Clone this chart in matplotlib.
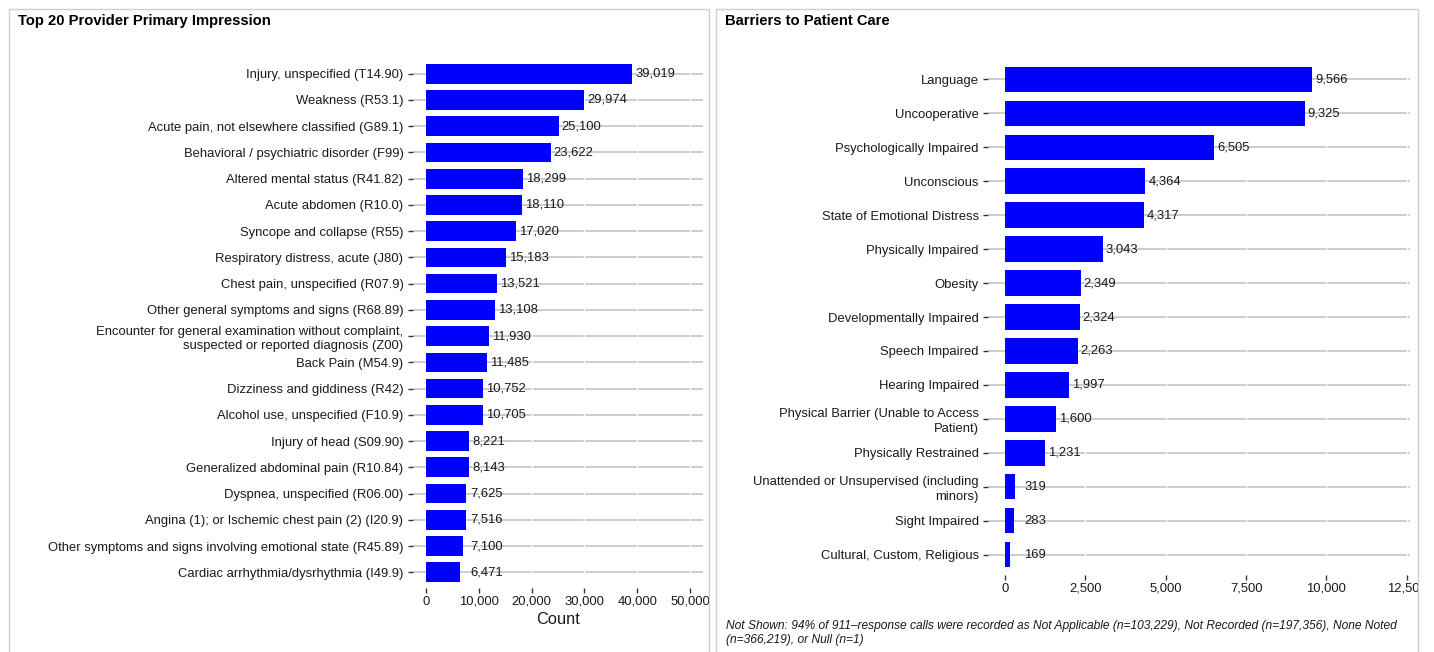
import numpy as np
import matplotlib
matplotlib.use("Agg")
import matplotlib.pyplot as plt
from matplotlib.patches import Rectangle
from matplotlib.transforms import Bbox, TransformedBbox
from matplotlib.ticker import FuncFormatter

plt.rcParams['font.family'] = ['Liberation Sans', 'DejaVu Sans']

# ---------------- data ----------------
left_title = "Top 20 Provider Primary Impression"
left_labels = [
    "Injury, unspecified (T14.90)",
    "Weakness (R53.1)",
    "Acute pain, not elsewhere classified (G89.1)",
    "Behavioral / psychiatric disorder (F99)",
    "Altered mental status (R41.82)",
    "Acute abdomen (R10.0)",
    "Syncope and collapse (R55)",
    "Respiratory distress, acute (J80)",
    "Chest pain, unspecified (R07.9)",
    "Other general symptoms and signs (R68.89)",
    "Encounter for general examination without complaint,\nsuspected or reported diagnosis (Z00)",
    "Back Pain (M54.9)",
    "Dizziness and giddiness (R42)",
    "Alcohol use, unspecified (F10.9)",
    "Injury of head (S09.90)",
    "Generalized abdominal pain (R10.84)",
    "Dyspnea, unspecified (R06.00)",
    "Angina (1); or Ischemic chest pain (2) (I20.9)",
    "Other symptoms and signs involving emotional state (R45.89)",
    "Cardiac arrhythmia/dysrhythmia (I49.9)",
]
left_values = [39019, 29974, 25100, 23622, 18299, 18110, 17020, 15183, 13521,
               13108, 11930, 11485, 10752, 10705, 8221, 8143, 7625, 7516, 7100, 6471]
left_ticks = [0, 10000, 20000, 30000, 40000, 50000]
left_xlabel = "Count"

right_title = "Barriers to Patient Care"
right_labels = [
    "Language",
    "Uncooperative",
    "Psychologically Impaired",
    "Unconscious",
    "State of Emotional Distress",
    "Physically Impaired",
    "Obesity",
    "Developmentally Impaired",
    "Speech Impaired",
    "Hearing Impaired",
    "Physical Barrier (Unable to Access\nPatient)",
    "Physically Restrained",
    "Unattended or Unsupervised (including\nminors)",
    "Sight Impaired",
    "Cultural, Custom, Religious",
]
right_values = [9566, 9325, 6505, 4364, 4317, 3043, 2349, 2324, 2263, 1997,
                1600, 1231, 319, 283, 169]
right_ticks = [0, 2500, 5000, 7500, 10000, 12500]
footnote = ("Not Shown: 94% of 911\u2013response calls were recorded as Not Applicable "
            "(n=103,229), Not Recorded (n=197,356), None Noted\n(n=366,219), or Null (n=1)")

# ---------------- figure ----------------
W, H = 1434, 652
fig = plt.figure(figsize=(W / 100, H / 100), dpi=100)

def fx(px):
    return px / W

def fy(py):
    return 1 - py / H

def axes_px(l, r, t, b):
    return fig.add_axes([fx(l), fy(b), fx(r) - fx(l), fy(t) - fy(b)])

BLUE = "#0000ff"
GRID = "#c4c4c4"
TXT = "#1a1a1a"
TICKC = "#333333"
FS = 9.4

# panel borders
fig.add_artist(Rectangle((fx(9), fy(H + 5)), fx(709) - fx(9), fy(9) - fy(H + 5),
                         transform=fig.transFigure, fill=False, ec="#cfcfcf", lw=1.0))
fig.add_artist(Rectangle((fx(716), fy(H + 5)), fx(1418) - fx(716), fy(9) - fy(H + 5),
                         transform=fig.transFigure, fill=False, ec="#cfcfcf", lw=1.0))

fig.text(fx(18), fy(21), left_title, fontsize=10.6, fontweight="bold",
         ha="left", va="center", color="black")
fig.text(fx(725), fy(21), right_title, fontsize=10.6, fontweight="bold",
         ha="left", va="center", color="black")

comma = FuncFormatter(lambda v, p: f"{int(round(v)):,}")


def draw_panel(ax, labels, values, ticks, xlim, floor_val):
    n = len(labels)
    y = np.arange(n)
    ax.set_xlim(*xlim)
    ax.set_ylim(n - 1 + 0.6, -0.6)
    for s in ax.spines.values():
        s.set_visible(False)
    # horizontal grid lines at each category
    for yi in y:
        ax.axhline(yi, color=GRID, lw=1.2, zorder=1)
    # white vertical breaks at major ticks
    for t in ticks:
        ax.axvline(t, color="white", lw=1.0, zorder=1.5)
    ax.barh(y, values, height=0.75, color=BLUE, zorder=2)
    for yi, v in zip(y, values):
        ax.annotate(f"{v:,}", xy=(max(v, floor_val), yi), xytext=(3, 0),
                    textcoords="offset pixels", ha="left", va="center",
                    fontsize=FS, color=TXT, zorder=3)
    ax.set_yticks(y)
    ax.set_yticklabels(labels, fontsize=FS, color=TXT, linespacing=1.3)
    ax.set_xticks(ticks)
    ax.xaxis.set_major_formatter(comma)
    ax.tick_params(axis="both", length=3.5, width=1.0, color=TICKC, pad=2)
    ax.tick_params(axis="y", pad=3.2)
    ax.tick_params(axis="x", labelsize=FS, labelcolor=TXT)
    ax.set_facecolor("white")


ax1 = axes_px(412.8, 703.2, 58, 588)
draw_panel(ax1, left_labels, left_values, left_ticks, (-2500, 52500), 7900)
ax1.set_xlabel(left_xlabel, fontsize=11.8, color=TXT, labelpad=3)

ax2 = axes_px(988, 1410, 59, 575)
draw_panel(ax2, right_labels, right_values, right_ticks, (-530, 12600), 500)

# clip right panel tick labels to its border
clipbb = TransformedBbox(Bbox([[fx(716), fy(H)], [fx(1418), fy(9)]]), fig.transFigure)
for t in ax2.xaxis.get_major_ticks():
    t.label1.set_clip_box(clipbb)
    t.label1.set_clip_on(True)

fig.text(fx(726), fy(633), footnote, fontsize=8.65, style="italic", color=TXT,
         ha="left", va="center", linespacing=1.15)

fig.savefig("out.png", dpi=100, facecolor="white")
